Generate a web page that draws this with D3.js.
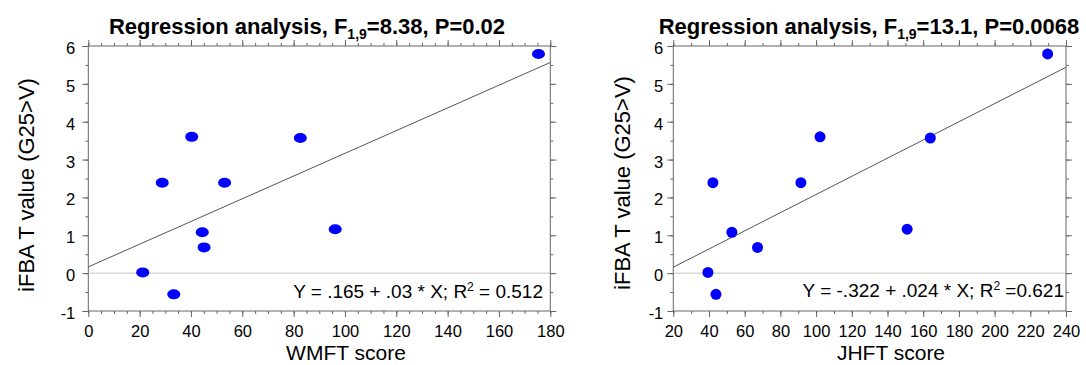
<!DOCTYPE html>
<html>
<head>
<meta charset="utf-8">
<script src="https://cdn.jsdelivr.net/npm/d3@7"></script>
<style>
  body { margin: 0; background: #fff; }
  svg { font-family: "Liberation Sans", Arial, sans-serif; }
  .frame { fill: none; stroke: #666; stroke-width: 1; }
  .tick line { stroke: #666; }
  .tick text { fill: #000; font-size: 16.5px; }
</style>
</head>
<body>
<div id="chart"></div>
<script>
// iFBA T value (G25>V), same subjects in both panels
var tValues = [5.79, 3.60, 3.57, 2.39, 2.39, 1.08, 0.68, 1.16, 0.02, -0.56];
var wmftScores = [175.4, 40.3, 82.6, 28.8, 53.1, 44.4, 45.1, 96.2, 21.2, 33.3];
var jhftScores = [229.7, 102.2, 164.0, 42.2, 91.5, 52.8, 67.2, 151.0, 39.4, 43.9];

var yTicks = [-1, 0, 1, 2, 3, 4, 5, 6];
var wmftTicks = [0, 20, 40, 60, 80, 100, 120, 140, 160, 180];
var jhftTicks = [20, 40, 60, 80, 100, 120, 140, 160, 180, 200, 220, 240];

var panels = [
  {name: "WMFT score", x: wmftScores, ticks: wmftTicks, minorStep: 5,
   fit: [0.165, 0.03], F: "8.38", P: "0.02",
   eq: ["Y = .165 + .03 * X; R", "2", " = 0.512"]},
  {name: "JHFT score", x: jhftScores, ticks: jhftTicks, minorStep: 10,
   fit: [-0.322, 0.024], F: "13.1", P: "0.0068",
   eq: ["Y = -.322 + .024 * X; R", "2", " =0.621"]}
];

// layout of each panel on the page
var boxes = [
  {left: 88.3, right: 550.3, top: 46, bottom: 311, titleX: 307, xTitleX: 346, yTitleX: 34, yTitleY: 185, eqX: 543, eqY: 298, pad: 7, rx: 6.5, ry: 5},
  {left: 673.3, right: 1066, top: 46, bottom: 311, titleX: 869, xTitleX: 891, yTitleX: 630, yTitleY: 183, eqX: 1064, eqY: 297, pad: 4, rx: 5.5, ry: 5.5}
];

var svg = d3.select("#chart").append("svg")
  .attr("width", 1086)
  .attr("height", 365);

panels.forEach(function(p, k){ drawPanel(p, boxes[k]); });

function drawPanel(p, b){
  var xMin = p.ticks[0], xMax = p.ticks[p.ticks.length - 1];
  var x = d3.scaleLinear().domain([xMin, xMax]).range([b.left, b.right]);
  var y = d3.scaleLinear().domain([-1, 6]).range([b.bottom, b.top]);

  var xMinor = d3.range(xMin, xMax + 0.001, p.minorStep);
  var yMinor = d3.range(-1, 6.001, 0.5);

  var g = svg.append("g");

  // minor ticks, all four sides
  g.append("g").attr("transform", "translate(0," + b.bottom + ")")
    .call(d3.axisBottom(x).tickValues(xMinor).tickSize(3).tickFormat(""));
  g.append("g").attr("transform", "translate(0," + b.top + ")")
    .call(d3.axisTop(x).tickValues(xMinor).tickSize(3).tickFormat(""));
  g.append("g").attr("transform", "translate(" + b.left + ",0)")
    .call(d3.axisLeft(y).tickValues(yMinor).tickSize(3).tickFormat(""));
  g.append("g").attr("transform", "translate(" + b.right + ",0)")
    .call(d3.axisRight(y).tickValues(yMinor).tickSize(3).tickFormat(""));

  // major ticks
  g.append("g").attr("transform", "translate(0," + b.bottom + ")")
    .call(d3.axisBottom(x).tickValues(p.ticks).tickSize(6).tickPadding(8).tickFormat(String));
  g.append("g").attr("transform", "translate(0," + b.top + ")")
    .call(d3.axisTop(x).tickValues(p.ticks).tickSize(6).tickFormat(""));
  g.append("g").attr("transform", "translate(" + b.left + ",0)")
    .call(d3.axisLeft(y).tickValues(yTicks).tickSize(6).tickPadding(b.pad).tickFormat(String))
    .selectAll("text").attr("dy", "0.45em");
  g.append("g").attr("transform", "translate(" + b.right + ",0)")
    .call(d3.axisRight(y).tickValues(yTicks).tickSize(6).tickFormat(""));

  g.selectAll(".domain").remove();

  g.append("rect")
    .attr("class", "frame")
    .attr("x", b.left).attr("y", b.top)
    .attr("width", b.right - b.left).attr("height", b.bottom - b.top);

  // zero reference line
  g.append("line")
    .attr("x1", b.left).attr("x2", b.right)
    .attr("y1", y(0)).attr("y2", y(0))
    .style("stroke", "#888")
    .style("stroke-width", 1)
    .style("stroke-dasharray", "1,1");

  // regression line
  g.append("line")
    .attr("x1", x(xMin)).attr("y1", y(p.fit[0] + p.fit[1] * xMin))
    .attr("x2", x(xMax)).attr("y2", y(p.fit[0] + p.fit[1] * xMax))
    .style("stroke", "#555")
    .style("stroke-width", 1);

  g.selectAll(".dot")
    .data(p.x)
    .enter().append("ellipse")
    .attr("class", "dot")
    .attr("cx", function(d){ return x(d); })
    .attr("cy", function(d, i){ return y(tValues[i]); })
    .attr("rx", b.rx).attr("ry", b.ry)
    .style("fill", "#0000ff");

  // title
  var title = g.append("text")
    .attr("x", b.titleX).attr("y", 34)
    .attr("text-anchor", "middle")
    .style("font-size", "22px")
    .style("font-weight", "bold");
  title.append("tspan").text("Regression analysis, F");
  title.append("tspan").attr("dy", 5).style("font-size", "14px").text("1,9");
  title.append("tspan").attr("dy", -5).text("=" + p.F + ", P=" + p.P);

  // equation
  var eq = g.append("text")
    .attr("x", b.eqX).attr("y", b.eqY)
    .attr("text-anchor", "end")
    .style("font-size", "19px");
  eq.append("tspan").text(p.eq[0]);
  eq.append("tspan").attr("dy", -7).style("font-size", "12px").text(p.eq[1]);
  eq.append("tspan").attr("dy", 7).text(p.eq[2]);

  g.append("text")
    .attr("x", b.xTitleX).attr("y", 360)
    .attr("text-anchor", "middle")
    .style("font-size", "21px")
    .text(p.name);

  g.append("text")
    .attr("transform", "translate(" + b.yTitleX + "," + b.yTitleY + ") rotate(-90)")
    .attr("text-anchor", "middle")
    .style("font-size", "22px")
    .text("iFBA T value (G25>V)");
}
</script>
</body>
</html>
